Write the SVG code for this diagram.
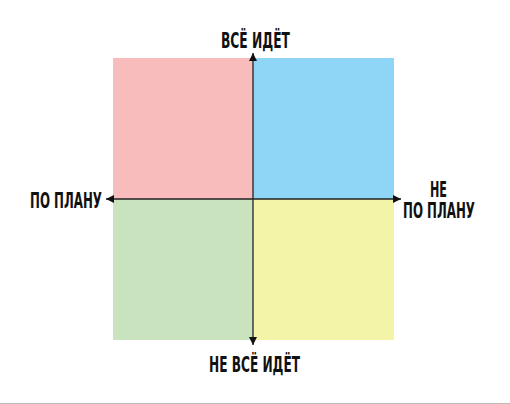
<svg xmlns="http://www.w3.org/2000/svg" width="510" height="404" viewBox="0 0 510 404">
<style>
.lbl{font-family:"Liberation Sans Narrow","DejaVu Sans Condensed","Liberation Sans",sans-serif;font-weight:bold;font-size:21px;fill:#111;text-anchor:middle}
.ax{stroke:#222;stroke-width:1.3;fill:none}
</style>
<defs>
<marker id="ah" viewBox="0 0 10 10" refX="10" refY="5" markerWidth="8" markerHeight="8" markerUnits="userSpaceOnUse" orient="auto">
<path d="M0,0 L10,5 L0,10 z" fill="#111"/>
</marker>
</defs>
<rect width="510" height="404" fill="#fff"/>
<line x1="0" y1="403.5" x2="510" y2="403.5" stroke="#bbb" stroke-width="1"/>
<g id="q-top-left"><rect x="113" y="58" width="140" height="141" fill="#f8bcbd"/></g>
<g id="q-top-right"><rect x="253" y="58" width="141" height="141" fill="#8fd6f6"/></g>
<g id="q-bottom-left"><rect x="113" y="199" width="140" height="141" fill="#c9e3bf"/></g>
<g id="q-bottom-right"><rect x="253" y="199" width="141" height="141" fill="#f3f4a7"/></g>
<g id="connectors">
<line class="ax" x1="253" y1="199" x2="253" y2="53" marker-end="url(#ah)"/>
<line class="ax" x1="253" y1="199" x2="253" y2="345" marker-end="url(#ah)"/>
<line class="ax" x1="253" y1="199" x2="106" y2="199" marker-end="url(#ah)"/>
<line class="ax" x1="253" y1="199" x2="401" y2="199" marker-end="url(#ah)"/>
</g>
<g id="label-top"><text class="lbl" x="255.5" y="48" textLength="69" lengthAdjust="spacingAndGlyphs">ВСЁ ИДЁТ</text></g>
<g id="label-left"><text class="lbl" x="66" y="208" textLength="72" lengthAdjust="spacingAndGlyphs">ПО ПЛАНУ</text></g>
<g id="label-right"><text class="lbl" x="438.5" y="197" textLength="17" lengthAdjust="spacingAndGlyphs">НЕ</text><text class="lbl" x="439" y="218" textLength="72" lengthAdjust="spacingAndGlyphs">ПО ПЛАНУ</text></g>
<g id="label-bottom"><text class="lbl" x="254.5" y="372" textLength="91" lengthAdjust="spacingAndGlyphs">НЕ ВСЁ ИДЁТ</text></g>
</svg>
